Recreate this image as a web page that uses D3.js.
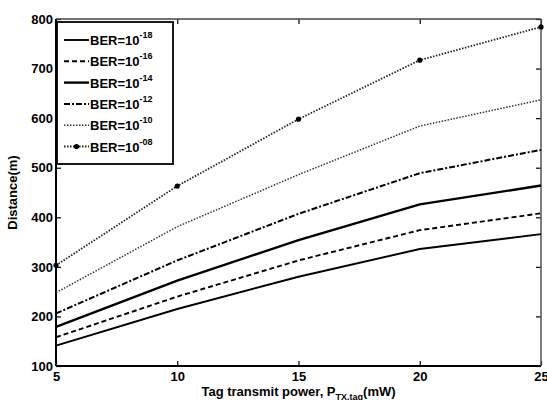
<!DOCTYPE html>
<html>
<head>
<meta charset="utf-8">
<script src="https://cdn.jsdelivr.net/npm/d3@7"></script>
<style>
    body { margin: 0; background: #fff; }
    svg text { font-family: "Liberation Sans", Arial, sans-serif; font-weight: bold; fill: #000; }
</style>
</head>
<body>
<svg class="chart" width="547" height="400"></svg>
<script>
var powers = [5, 10, 15, 20, 25];
var berLabels = ["-18", "-16", "-14", "-12", "-10", "-08"];
var dist18 = [141, 215, 280, 336, 366];
var dist16 = [158, 240, 313, 374, 408];
var dist14 = [179, 272, 354, 426, 464];
var dist12 = [206, 313, 407, 489, 536];
var dist10 = [248, 381, 486, 584, 637];
var dist08 = [303, 463, 598, 717, 784];
var xTicks = [5, 10, 15, 20, 25];
var yTicks = [100, 200, 300, 400, 500, 600, 700, 800];

var series = [
    { ber: berLabels[0], values: dist18, dash: null, width: 1.9, color: "#000" },
    { ber: berLabels[1], values: dist16, dash: "5,3", width: 1.9, color: "#000" },
    { ber: berLabels[2], values: dist14, dash: null, width: 2.4, color: "#000" },
    { ber: berLabels[3], values: dist12, dash: "6,2,2,2", width: 2, color: "#000" },
    { ber: berLabels[4], values: dist10, dash: "1.5,1.5", width: 1.5, color: "#333" },
    { ber: berLabels[5], values: dist08, dash: "1.5,1.5", width: 1.8, color: "#222", marker: true }
];

var svg = d3.select("svg.chart"),
    margin = { top: 19, right: 6, bottom: 34, left: 56 },
    width = +svg.attr("width") - margin.left - margin.right,
    height = +svg.attr("height") - margin.top - margin.bottom,
    g = svg.append("g").attr("transform", "translate(" + margin.left + "," + margin.top + ")");

var x = d3.scaleLinear().domain([5, 25]).range([0, width]);
var y = d3.scaleLinear().domain([100, 800]).range([height, 0]);

// inward ticks on all four sides
function styleAxis(sel, showLabels) {
    sel.select(".domain").remove();
    sel.selectAll(".tick line").attr("stroke", "#000").attr("stroke-width", 1.2);
    sel.selectAll(".tick text")
        .style("font-size", "13px")
        .style("font-weight", "bold")
        .style("font-family", "'Liberation Sans', Arial, sans-serif");
    if (!showLabels) sel.selectAll(".tick text").remove();
}

g.append("g")
    .attr("transform", "translate(0," + height + ")")
    .call(d3.axisBottom(x).tickValues(xTicks).tickSize(-5).tickPadding(6).tickFormat(d3.format("d")))
    .call(styleAxis, true);
g.append("g")
    .call(d3.axisTop(x).tickValues(xTicks).tickSize(-5))
    .call(styleAxis, false);
g.append("g")
    .call(d3.axisLeft(y).tickValues(yTicks).tickSize(-5).tickPadding(3).tickFormat(d3.format("d")))
    .call(styleAxis, true);
g.append("g")
    .attr("transform", "translate(" + width + ",0)")
    .call(d3.axisRight(y).tickValues(yTicks).tickSize(-5))
    .call(styleAxis, false);

// frame
g.append("line").attr("x1", 0).attr("x2", 0).attr("y1", 0).attr("y2", height)
    .attr("stroke", "#000").attr("stroke-width", 2);
g.append("line").attr("x1", 0).attr("x2", width).attr("y1", height).attr("y2", height)
    .attr("stroke", "#000").attr("stroke-width", 2);
g.append("line").attr("x1", 0).attr("x2", width).attr("y1", 0).attr("y2", 0)
    .attr("stroke", "#444").attr("stroke-width", 1.3);
g.append("line").attr("x1", width).attr("x2", width).attr("y1", 0).attr("y2", height)
    .attr("stroke", "#555").attr("stroke-width", 1.5);

var line = d3.line()
    .x(function (d, i) { return x(powers[i]); })
    .y(function (d) { return y(d); });

series.forEach(function (s) {
    g.append("path")
        .datum(s.values)
        .attr("fill", "none")
        .attr("stroke", s.color)
        .attr("stroke-width", s.width)
        .attr("stroke-dasharray", s.dash)
        .attr("d", line);
    if (s.marker) {
        g.selectAll(".marker")
            .data(s.values)
            .enter()
            .append("circle")
            .attr("cx", function (d, i) { return x(powers[i]); })
            .attr("cy", function (d) { return y(d); })
            .attr("r", 2.6)
            .attr("fill", "#000");
    }
});

// legend
var legend = g.append("g").attr("transform", "translate(1,3)");
legend.append("rect")
    .attr("width", 116).attr("height", 142)
    .attr("fill", "#fff").attr("stroke", "#000").attr("stroke-width", 1.8);
var item = legend.selectAll(".item")
    .data(series)
    .enter()
    .append("g")
    .attr("transform", function (d, i) { return "translate(0," + (18 + i * 21.3) + ")"; });
item.append("line")
    .attr("x1", 7).attr("x2", 32).attr("y1", 0).attr("y2", 0)
    .attr("stroke", function (d) { return d.color; })
    .attr("stroke-width", function (d) { return d.width; })
    .attr("stroke-dasharray", function (d) { return d.dash; });
item.filter(function (d) { return d.marker; })
    .append("circle").attr("cx", 19.5).attr("cy", 0).attr("r", 2.6).attr("fill", "#000");
var label = item.append("text")
    .attr("x", 33).attr("y", 5)
    .style("font-size", "13px");
label.append("tspan").text("BER=10");
label.append("tspan")
    .attr("dy", -7)
    .style("font-size", "9px")
    .text(function (d) { return d.ber; });

// axis titles
svg.append("text")
    .attr("transform", "translate(17," + (margin.top + height / 2) + ") rotate(-90)")
    .attr("text-anchor", "middle")
    .style("font-size", "13px")
    .text("Distance(m)");
var xt = svg.append("text")
    .attr("x", margin.left + width / 2)
    .attr("y", 396)
    .attr("text-anchor", "middle")
    .style("font-size", "13px");
xt.append("tspan").text("Tag transmit power, P");
xt.append("tspan").attr("dy", 4).style("font-size", "9px").text("TX,tag");
xt.append("tspan").attr("dy", -4).text("(mW)");
</script>
</body>
</html>
